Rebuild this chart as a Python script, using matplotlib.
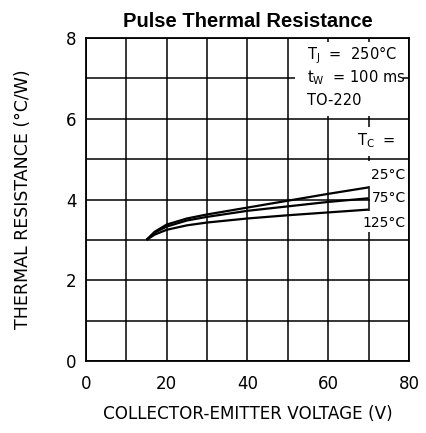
import matplotlib
matplotlib.use("Agg")
import matplotlib.pyplot as plt
from matplotlib.patches import Rectangle
import numpy as np

vce = [15, 17, 20, 25, 30, 40, 50, 60, 70]
r_25 = [3.0, 3.20, 3.38, 3.53, 3.63, 3.80, 3.97, 4.14, 4.30]
r_75 = [3.0, 3.18, 3.33, 3.48, 3.57, 3.72, 3.83, 3.94, 4.03]
r_125 = [3.0, 3.13, 3.25, 3.36, 3.43, 3.53, 3.61, 3.68, 3.75]
xticks = [0, 20, 40, 60, 80]
yticks = [0, 2, 4, 6, 8]

fig = plt.figure(figsize=(4.26, 4.33), dpi=100)
ax = fig.add_axes([0.2019, 0.1663, 0.758, 0.7459])
ax.set_xlim(0, 80)
ax.set_ylim(0, 8)
ax.set_xticks(xticks)
ax.set_xticks(np.arange(0, 81, 10), minor=True)
ax.set_yticks(yticks)
ax.set_yticks(np.arange(0, 9, 1), minor=True)
ax.set_axisbelow(True)
ax.grid(True, which='both', color='black', lw=1.1)
ax.tick_params(which='both', length=0, labelsize=12)
ax.tick_params(axis='x', pad=10)
ax.tick_params(axis='y', pad=7)
for s in ax.spines.values():
    s.set_linewidth(1.3)
    s.set_zorder(2.5)

# white areas behind the annotations (hide grid)
for (x0, y0, w, h) in [(51.9, 6.08, 26.6, 1.82), (67.2, 5.08, 12.5, 0.72),
                       (67.5, 4.33, 12.2, 0.62), (70.3, 3.8, 9.4, 0.42),
                       (67.5, 3.2, 12.2, 0.52)]:
    ax.add_patch(Rectangle((x0, y0), w, h, facecolor='white', edgecolor='none', zorder=1.5))

for y in (r_25, r_75, r_125):
    ax.plot(vce, y, color='black', lw=1.6, zorder=3, solid_capstyle='butt')

tfont = dict(family='DejaVu Sans', fontsize=10.5, color='black', zorder=5)
sfont = dict(family='DejaVu Sans', fontsize=10, color='black', zorder=5)
ax.text(54.7, 7.58, r'T$_\mathregular{J}$  =  250°C', ha='left', va='center', **tfont)
ax.text(54.7, 7.03, r't$_\mathregular{W}$  = 100 ms', ha='left', va='center', **tfont)
ax.text(54.7, 6.46, 'TO-220', ha='left', va='center', **tfont)
ax.text(76.6, 5.45, r'T$_\mathregular{C}$  =', ha='right', va='center', **tfont)
ax.text(79.2, 4.6, '25°C', ha='right', va='center', **sfont)
ax.text(79.2, 4.03, '75°C', ha='right', va='center', **sfont)
ax.text(79.2, 3.42, '125°C', ha='right', va='center', **sfont)

ax.set_title('Pulse Thermal Resistance', fontsize=14.5, fontweight='bold',
             family='Liberation Sans', pad=8)
ax.set_xlabel('COLLECTOR-EMITTER VOLTAGE (V)', fontsize=12.1, labelpad=9)
ax.set_ylabel('THERMAL RESISTANCE (°C/W)', fontsize=12.5, labelpad=24)

fig.savefig('out.png', dpi=100)
